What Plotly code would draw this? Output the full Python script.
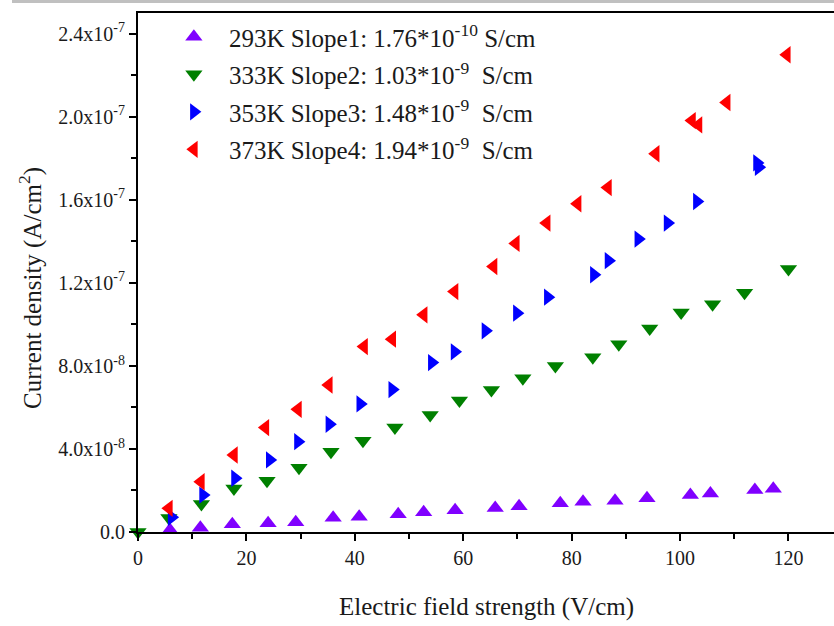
import plotly.graph_objects as go

# ---- data (E in V/cm, J in A/cm^2) ----
x_293 = [5.9, 11.5, 17.4, 24.0, 29.1, 36.0, 40.8, 48.0, 52.7, 58.5, 65.9, 70.3, 77.9, 82.1, 88.0, 93.9, 101.9, 105.6, 113.8, 117.2]
y_293 = [0.10e-8, 0.21e-8, 0.37e-8, 0.42e-8, 0.47e-8, 0.69e-8, 0.74e-8, 0.85e-8, 0.95e-8, 1.05e-8, 1.16e-8, 1.24e-8, 1.39e-8, 1.46e-8, 1.51e-8, 1.63e-8, 1.78e-8, 1.86e-8, 2.02e-8, 2.08e-8]

x_333 = [0.0, 5.7, 11.7, 17.7, 23.8, 29.7, 35.6, 41.5, 47.4, 53.9, 59.3, 65.2, 71.0, 77.0, 83.9, 88.7, 94.4, 100.2, 106.0, 111.9, 120.0]
y_333 = [0.0, 0.67e-8, 1.35e-8, 2.10e-8, 2.47e-8, 3.10e-8, 3.87e-8, 4.39e-8, 5.03e-8, 5.64e-8, 6.33e-8, 6.84e-8, 7.41e-8, 8.00e-8, 8.42e-8, 9.04e-8, 9.80e-8, 10.57e-8, 10.97e-8, 11.53e-8, 12.67e-8]

x_353 = [6.2, 12.0, 17.9, 24.3, 29.5, 35.3, 41.0, 46.9, 54.2, 58.4, 64.1, 69.9, 75.6, 84.1, 86.8, 92.3, 97.7, 103.1, 114.2, 114.5]
y_353 = [0.71e-8, 1.78e-8, 2.59e-8, 3.47e-8, 4.35e-8, 5.19e-8, 6.17e-8, 6.86e-8, 8.16e-8, 8.68e-8, 9.69e-8, 10.54e-8, 11.31e-8, 12.39e-8, 13.07e-8, 14.11e-8, 14.88e-8, 15.92e-8, 17.78e-8, 17.57e-8]

x_373 = [5.7, 11.6, 17.7, 23.5, 29.5, 35.2, 41.7, 46.9, 52.7, 58.4, 65.6, 69.7, 75.4, 81.1, 86.7, 95.5, 102.2, 103.4, 108.6, 119.7]
y_373 = [1.14e-8, 2.42e-8, 3.71e-8, 5.03e-8, 5.91e-8, 7.08e-8, 8.93e-8, 9.29e-8, 10.46e-8, 11.58e-8, 12.79e-8, 13.90e-8, 14.88e-8, 15.81e-8, 16.59e-8, 18.22e-8, 19.82e-8, 19.61e-8, 20.69e-8, 22.99e-8]

names = [
    "293K Slope1: 1.76*10<sup>-10</sup> S/cm",
    "333K Slope2: 1.03*10<sup>-9</sup>  S/cm",
    "353K Slope3: 1.48*10<sup>-9</sup>  S/cm",
    "373K Slope4: 1.94*10<sup>-9</sup>  S/cm",
]

x_ticks = [0, 20, 40, 60, 80, 100, 120]
y_ticks = [0, 4e-8, 8e-8, 1.2e-7, 1.6e-7, 2.0e-7, 2.4e-7]
y_ticktext = ["0.0", "4.0x10<sup>-8</sup>", "8.0x10<sup>-8</sup>", "1.2x10<sup>-7</sup>",
              "1.6x10<sup>-7</sup>", "2.0x10<sup>-7</sup>", "2.4x10<sup>-7</sup>"]

x_title = "Electric field strength (V/cm)"
y_title = "Current density (A/cm<sup>2</sup>)"

FONT = "Liberation Serif, Times New Roman, serif"
TXT = "#1a1a1a"

series = [
    (x_293, y_293, names[0], "#8000ff", "triangle-up"),
    (x_333, y_333, names[1], "#008000", "triangle-down"),
    (x_353, y_353, names[2], "#0000ff", "triangle-right"),
    (x_373, y_373, names[3], "#ff0000", "triangle-left"),
]

fig = go.Figure()
for i, (xs, ys, nm, col, sym) in enumerate(series):
    fig.add_trace(go.Scatter(
        x=xs, y=ys, mode="markers", name=nm, legendgroup=f"g{i}",
        marker=dict(symbol=sym, size=15, color=col, line=dict(width=0)),
        cliponaxis=False,
    ))

axis_common = dict(
    showline=True, linecolor="black", linewidth=2,
    ticks="outside", ticklen=7, tickwidth=2, tickcolor="black",
    showgrid=False, zeroline=False,
    tickfont=dict(family=FONT, size=20, color=TXT),
)

fig.update_layout(
    width=834, height=626,
    margin=dict(l=138, r=0, t=13, b=94, pad=0),
    paper_bgcolor="white", plot_bgcolor="white",
    font=dict(family=FONT, color=TXT),
    showlegend=True,
    legend=dict(
        x=0.030, y=0.998, xanchor="left", yanchor="top",
        bgcolor="rgba(0,0,0,0)", borderwidth=0, itemwidth=60,
        font=dict(family=FONT, size=25, color=TXT),
        tracegroupgap=2, traceorder="grouped",
    ),
    xaxis=dict(
        range=[0, 128.4], tickmode="array", tickvals=x_ticks,
        ticktext=[str(v) for v in x_ticks], mirror=True,
        minor=dict(dtick=10, tick0=0, ticks="outside", ticklen=5, tickwidth=2, tickcolor="black"),
        **axis_common,
    ),
    yaxis=dict(
        range=[0, 2.5e-7], tickmode="array", tickvals=y_ticks, ticktext=y_ticktext,
        minor=dict(dtick=2e-8, tick0=0, ticks="outside", ticklen=5, tickwidth=2, tickcolor="black"),
        **axis_common,
    ),
    annotations=[
        dict(text=x_title, xref="paper", yref="paper", x=0.5, y=(532 - 607) / 519,
             xanchor="center", yanchor="middle", showarrow=False,
             font=dict(family=FONT, size=25, color=TXT)),
        dict(text=y_title, xref="paper", yref="paper", x=(30 - 138) / 696, y=1 - (288 - 13) / 519,
             xanchor="center", yanchor="middle", showarrow=False, textangle=-90,
             font=dict(family=FONT, size=25, color=TXT)),
    ],
    shapes=[dict(type="rect", xref="paper", yref="paper",
                 x0=(12 - 138) / 696, x1=1.0, y0=1 + 10 / 519, y1=1 + 13 / 519,
                 fillcolor="#c0c0c0", line=dict(width=0), layer="above")],
)

fig.write_html("out.html")
